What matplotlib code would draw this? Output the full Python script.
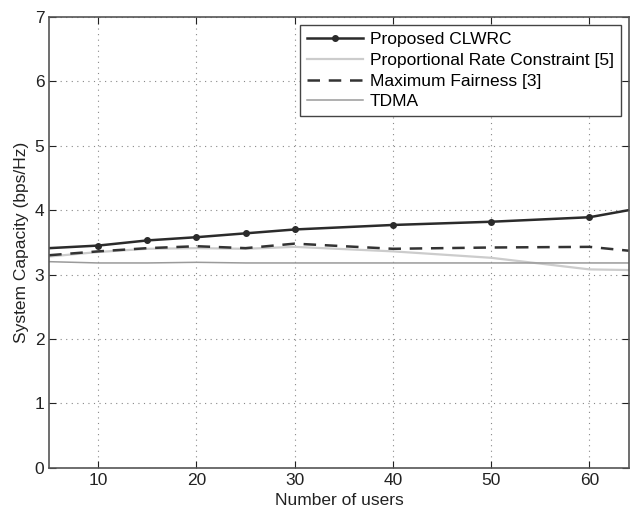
import numpy as np
import matplotlib
matplotlib.use("Agg")
from matplotlib import pyplot as plt

# data
users = [5, 10, 15, 20, 25, 30, 40, 50, 60, 64]
clwrc = [3.41, 3.45, 3.53, 3.58, 3.64, 3.70, 3.77, 3.82, 3.89, 4.00]
prop_rate = [3.28, 3.35, 3.40, 3.41, 3.40, 3.43, 3.36, 3.26, 3.08, 3.07]
max_fair = [3.30, 3.36, 3.41, 3.44, 3.41, 3.48, 3.40, 3.42, 3.43, 3.37]
tdma = [3.20, 3.18, 3.18, 3.19, 3.18, 3.18, 3.18, 3.18, 3.18, 3.18]

plt.rcParams["font.family"] = ["Liberation Sans", "DejaVu Sans"]

fig = plt.figure(figsize=(6.3, 5.14), dpi=100)
ax = fig.add_axes([0.078, 0.09, 0.92, 0.877])

ax.plot(users, clwrc, color="#2b2b2b", lw=1.8, marker="o", ms=4,
        markevery=list(range(1, 9)), label="Proposed CLWRC")
ax.plot(users, prop_rate, color="#cccccc", lw=1.6,
        label="Proportional Rate Constraint [5]")
ax.plot(users, max_fair, color="#333333", lw=1.8, ls=(0, (5, 3.5)),
        label="Maximum Fairness [3]")
ax.plot(users, tdma, color="#9a9a9a", lw=1.1, label="TDMA")

ax.set_xlim(5, 64)
ax.set_ylim(0, 7)
ax.set_xticks([10, 20, 30, 40, 50, 60])
ax.set_yticks(range(0, 8))
ax.tick_params(direction="in", labelsize=12.5, colors="#222222", length=5,
               top=True, right=True)
ax.grid(True, ls=(0, (1, 4)), color="#888888", lw=0.8)
for s in ax.spines.values():
    s.set_color("#555555")
    s.set_linewidth(1.2)

ax.set_xlabel("Number of users", fontsize=12.5, color="#222222", labelpad=4)
ax.set_ylabel("System Capacity (bps/Hz)", fontsize=12.5, color="#222222", labelpad=4)

leg = ax.legend(loc="upper right", fontsize=12.5, fancybox=False, framealpha=1,
                edgecolor="#444444", handlelength=3.2, borderpad=0.4,
                labelspacing=0.32, handletextpad=0.4, borderaxespad=0,
                bbox_to_anchor=(0.986, 0.982))
leg.get_frame().set_linewidth(1.0)

fig.savefig("out.png", dpi=100, facecolor="white")
